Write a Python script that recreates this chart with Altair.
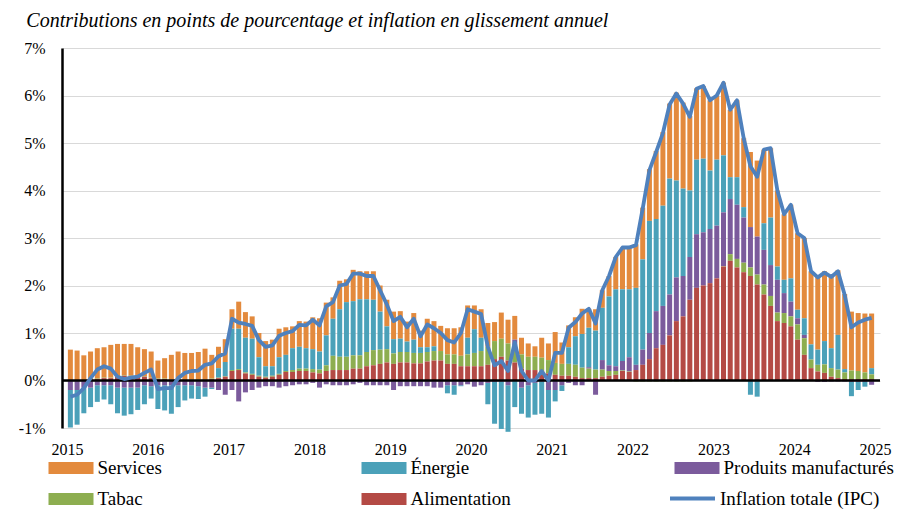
import altair as alt
import pandas as pd

FIRST_YEAR = 2015
YEAR_TICKS = list(range(2015, 2026))
PCT_TICKS = list(range(-1, 8))

# Contributions (points de %), monthly Jan 2015 - Dec 2024
services = [
    0.64, 0.62, 0.52, 0.58, 0.64, 0.64, 0.69, 0.68, 0.66, 0.66, 0.59, 0.57,
    0.55, 0.38, 0.43, 0.51, 0.58, 0.55, 0.56, 0.58, 0.64, 0.50, 0.45, 0.48,
    0.41, 0.57, 0.54, 0.47, 0.51, 0.53, 0.56, 0.60, 0.58, 0.46, 0.54, 0.56,
    0.67, 0.70, 0.69, 0.45, 0.60, 0.48, 0.66, 0.59, 0.59, 0.60, 0.55, 0.56,
    0.58, 0.58, 0.42, 0.56, 0.35, 0.60, 0.53, 0.53, 0.55, 0.55, 0.60, 0.68,
    0.50, 0.60, 0.50, 0.40, 0.55, 0.50, 0.50, 0.35, 0.28, 0.22, 0.42, 0.35,
    0.65, 0.45, 0.46, 0.40, 0.53, 0.40, 0.45, 0.37, 0.43, 0.68, 0.88, 0.88,
    0.92, 1.09, 1.09, 1.43, 1.55, 1.58, 1.85, 1.81, 1.57, 1.50, 1.53, 1.48,
    1.35, 1.53, 1.42, 1.62, 1.45, 1.58, 1.60, 1.55, 1.46, 1.60, 1.38, 1.55,
    1.61, 1.69, 1.54, 1.55, 1.47, 1.52, 1.36, 1.58, 1.24, 1.22, 1.24, 1.15,
]
energy = [
    -0.79, -0.73, -0.54, -0.41, -0.35, -0.30, -0.40, -0.54, -0.59, -0.56, -0.47, -0.40,
    -0.26, -0.50, -0.53, -0.60, -0.46, -0.32, -0.28, -0.27, -0.19, -0.03, 0.20, 0.30,
    0.87, 0.85, 0.73, 0.74, 0.39, 0.22, 0.20, 0.35, 0.34, 0.46, 0.46, 0.43,
    0.42, 0.38, 0.63, 0.78, 1.00, 1.15, 1.14, 1.18, 1.11, 1.06, 0.80, 0.48,
    0.30, 0.28, 0.22, 0.28, 0.12, 0.10, 0.10, 0.00, -0.17, -0.20, -0.02, 0.35,
    0.50, 0.28, -0.45, -0.88, -1.00, -0.98, -0.56, -0.55, -0.68, -0.67, -0.68, -0.58,
    -0.24, -0.12, 0.35, 0.60, 0.71, 0.83, 0.82, 1.10, 1.45, 1.62, 1.51, 1.43,
    1.62, 1.90, 2.36, 1.94, 2.11, 2.44, 2.04, 1.84, 1.40, 1.57, 1.55, 1.23,
    1.39, 1.20, 0.46, 0.58, 0.22, -0.30, -0.34, 0.56, 1.00, 0.28, 0.28, 0.49,
    0.18, 0.35, 0.32, 0.32, 0.49, 0.42, 0.73, 0.07, -0.30, -0.17, -0.10, 0.13,
]
manufactured = [
    -0.20, -0.20, -0.15, -0.15, -0.10, -0.10, -0.10, -0.15, -0.15, -0.15, -0.15, -0.10,
    -0.12, -0.10, -0.10, -0.10, -0.10, -0.10, -0.10, -0.12, -0.15, -0.15, -0.20, -0.30,
    -0.20, -0.44, -0.25, -0.20, -0.15, -0.12, -0.12, -0.15, -0.12, -0.10, -0.08, -0.08,
    -0.05, -0.15, -0.08, -0.10, -0.10, -0.10, -0.08, -0.05, -0.10, -0.10, -0.10, -0.10,
    -0.20, -0.12, -0.12, -0.12, -0.12, -0.12, -0.15, -0.15, -0.10, -0.10, -0.10, -0.08,
    -0.13, -0.10, -0.05, -0.03, -0.02, -0.10, 0.12, -0.15, -0.10, -0.05, -0.02, -0.20,
    -0.20, -0.10, -0.05, -0.10, -0.10, 0.03, -0.30, 0.20, 0.12, 0.10, 0.20, 0.30,
    0.11, 0.32, 0.55, 0.78, 0.82, 0.86, 0.92, 0.85, 0.90, 1.13, 1.12, 1.14,
    1.11, 1.13, 1.16, 1.14, 0.95, 0.85, 0.80, 0.73, 0.65, 0.69, 0.42, 0.31,
    0.13, 0.07, 0.00, -0.03, -0.03, -0.02, -0.02, -0.02, -0.03, -0.03, -0.03, -0.09,
]
tobacco = [
    0.01, 0.01, 0.01, 0.01, 0.01, 0.01, 0.01, 0.01, 0.01, 0.01, 0.01, 0.01,
    0.01, 0.01, 0.01, 0.01, 0.01, 0.01, 0.01, 0.01, 0.01, 0.01, 0.01, 0.01,
    0.02, 0.02, 0.02, 0.02, 0.02, 0.02, 0.02, 0.02, 0.02, 0.04, 0.05, 0.05,
    0.07, 0.08, 0.12, 0.30, 0.28, 0.28, 0.28, 0.28, 0.30, 0.32, 0.30, 0.28,
    0.22, 0.22, 0.22, 0.22, 0.22, 0.20, 0.20, 0.20, 0.20, 0.20, 0.22, 0.25,
    0.28, 0.32, 0.38, 0.38, 0.38, 0.36, 0.36, 0.30, 0.28, 0.28, 0.28, 0.28,
    0.25, 0.25, 0.25, 0.25, 0.22, 0.20, 0.18, 0.15, 0.10, 0.08, 0.01, 0.01,
    -0.02, -0.02, -0.02, -0.02, -0.02, -0.02, -0.02, -0.02, -0.02, -0.01, 0.00, 0.00,
    0.00, 0.01, 0.14, 0.18, 0.20, 0.18, 0.21, 0.21, 0.21, 0.18, 0.21, 0.21,
    0.32, 0.35, 0.18, 0.14, 0.18, 0.18, 0.18, 0.14, 0.18, 0.17, 0.14, 0.10,
]
food = [
    0.00, 0.00, 0.00, 0.02, 0.03, 0.05, 0.05, 0.08, 0.10, 0.10, 0.10, 0.08,
    0.05, 0.03, 0.03, 0.02, 0.02, 0.02, 0.01, 0.01, 0.02, 0.03, 0.05, 0.08,
    0.20, 0.22, 0.15, 0.12, 0.08, 0.06, 0.08, 0.12, 0.18, 0.18, 0.20, 0.20,
    0.17, 0.15, 0.20, 0.22, 0.22, 0.22, 0.25, 0.25, 0.30, 0.32, 0.35, 0.38,
    0.35, 0.38, 0.38, 0.36, 0.36, 0.40, 0.42, 0.42, 0.35, 0.35, 0.30, 0.30,
    0.30, 0.30, 0.33, 0.45, 0.50, 0.42, 0.38, 0.25, 0.22, 0.22, 0.20, 0.15,
    0.12, 0.10, 0.10, 0.08, 0.05, 0.05, 0.05, 0.08, 0.10, 0.12, 0.20, 0.18,
    0.22, 0.33, 0.45, 0.68, 0.75, 0.95, 1.25, 1.35, 1.70, 1.95, 2.00, 2.05,
    2.15, 2.40, 2.52, 2.38, 2.28, 2.20, 2.02, 1.81, 1.57, 1.25, 1.21, 1.14,
    0.86, 0.54, 0.26, 0.19, 0.16, 0.08, 0.05, 0.03, 0.03, 0.03, 0.03, 0.03,
]
# Inflation totale (IPC), glissement annuel en %
inflation = [
    -0.34, -0.30, -0.16, 0.05, 0.23, 0.30, 0.25, 0.08, 0.03, 0.06, 0.08, 0.16,
    0.23, -0.18, -0.16, -0.16, 0.05, 0.16, 0.20, 0.21, 0.33, 0.36, 0.51, 0.57,
    1.30, 1.22, 1.19, 1.15, 0.85, 0.71, 0.74, 0.94, 1.00, 1.04, 1.17, 1.16,
    1.28, 1.16, 1.56, 1.65, 2.00, 2.03, 2.25, 2.25, 2.20, 2.20, 1.90, 1.60,
    1.25, 1.34, 1.12, 1.30, 0.93, 1.18, 1.10, 1.00, 0.85, 0.80, 1.00, 1.50,
    1.45, 1.40, 0.71, 0.32, 0.41, 0.20, 0.80, 0.20, 0.00, 0.00, 0.20, 0.00,
    0.58, 0.58, 1.11, 1.23, 1.41, 1.51, 1.20, 1.90, 2.20, 2.60, 2.80, 2.80,
    2.85, 3.62, 4.43, 4.81, 5.21, 5.81, 6.04, 5.83, 5.55, 6.14, 6.20, 5.90,
    6.00, 6.27, 5.70, 5.90, 5.10, 4.51, 4.29, 4.86, 4.89, 4.00, 3.50, 3.70,
    3.10, 3.00, 2.30, 2.17, 2.27, 2.18, 2.30, 1.80, 1.12, 1.22, 1.28, 1.32,
]

names = ["Services", "Énergie", "Produits manufacturés", "Tabac", "Alimentation"]
bar_colors = ["#E38A3D", "#4BA1B9", "#7B5B9C", "#8DAE50", "#B44A45"]
stack_rank = [4, 3, 2, 1, 0]
line_name = "Inflation totale (IPC)"
line_color = "#4F81BD"
series_values = [services, energy, manufactured, tobacco, food]

n = len(inflation)
month_pos = [FIRST_YEAR + (k + 0.5) / 12 for k in range(n)]

rows = []
for name, rank, vals in zip(names, stack_rank, series_values):
    for k, v in enumerate(vals):
        rows.append({"t": month_pos[k], "component": name, "value": v, "rank": rank})
bars_df = pd.DataFrame(rows)
line_df = pd.DataFrame({"t": month_pos, "value": inflation, "series": line_name})
zero_df = pd.DataFrame({"v": [0.0]})

FONT = "'Liberation Serif', 'Times New Roman', Times, serif"

x_scale = alt.Scale(domain=[2015, 2025], nice=False, zero=False)
x_axis = alt.Axis(values=YEAR_TICKS, format="d", title=None, grid=False, domain=False,
                  ticks=False, labelFont=FONT, labelFontSize=16, labelColor="black",
                  labelPadding=13, labelFlush=False, labelOverlap=False)
y_scale = alt.Scale(domain=[-1, 7], nice=False, zero=False)
y_axis = alt.Axis(values=PCT_TICKS, labelExpr="datum.value + '%'", title=None, grid=True,
                  gridColor="#d9d9d9", gridWidth=1.2, domain=True, domainColor="black",
                  domainWidth=2.5, ticks=False, labelFont=FONT, labelFontSize=16,
                  labelColor="black", labelPadding=17)

bar_legend = alt.Legend(title=None, orient="none", legendX=-1, legendY=410, columns=3,
                        direction="horizontal", gridAlign="all", columnPadding=93,
                        rowPadding=11,
                        symbolType="M-2.25,-0.6H2.25V0.6H-2.25Z", symbolSize=400,
                        symbolStrokeWidth=0, labelFont=FONT, labelFontSize=19,
                        labelColor="black", labelOffset=16.5, labelLimit=400, padding=0)
line_legend = alt.Legend(title=None, orient="none", legendX=606, legendY=426,
                         symbolType="stroke", symbolSize=2025, symbolStrokeWidth=4,
                         labelFont=FONT, labelFontSize=19, labelColor="black",
                         labelOffset=3, labelLimit=400, padding=0)

bars = alt.Chart(bars_df).mark_bar(size=5).encode(
    x=alt.X("t:Q", scale=x_scale, axis=x_axis),
    y=alt.Y("value:Q", stack="zero", scale=y_scale, axis=y_axis),
    color=alt.Color("component:N", scale=alt.Scale(domain=names, range=bar_colors),
                    legend=bar_legend),
    order=alt.Order("rank:Q", sort="ascending"),
)

zero_rule = alt.Chart(zero_df).mark_rule(color="black", strokeWidth=2.5).encode(
    y=alt.Y("v:Q", scale=y_scale, axis=y_axis)
)

line = alt.Chart(line_df).mark_line(strokeWidth=3.8, strokeJoin="round").encode(
    x=alt.X("t:Q", scale=x_scale, axis=x_axis),
    y=alt.Y("value:Q", scale=y_scale, axis=y_axis),
    stroke=alt.Stroke("series:N", scale=alt.Scale(domain=[line_name], range=[line_color]),
                      legend=line_legend),
)

chart = alt.layer(bars, zero_rule, line).properties(
    width=818,
    height=380,
    autosize="none",
    padding={"left": 54, "top": 40, "right": 26, "bottom": 85},
    title=alt.TitleParams(
        "Contributions en points de pourcentage et inflation en glissement annuel",
        anchor="start", font=FONT, fontStyle="italic", fontWeight="normal",
        fontSize=20, color="black", dx=8, dy=27, offset=20, baseline="alphabetic",
    ),
).configure_view(stroke=None)

chart.save("out.html", embed_options={"renderer": "svg", "actions": False})
